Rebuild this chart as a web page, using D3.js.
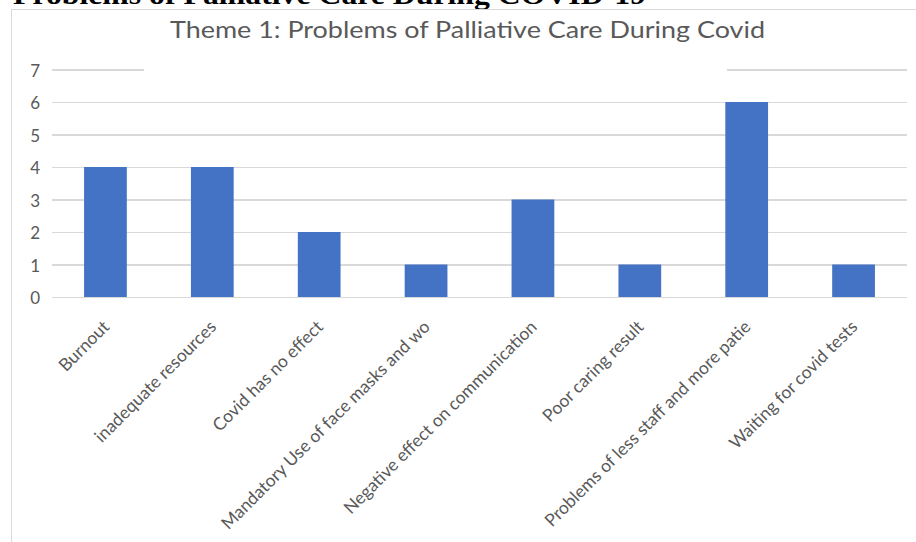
<!DOCTYPE html>
<html>
<head>
<meta charset="utf-8">
<script src="https://cdn.jsdelivr.net/npm/d3@7/dist/d3.min.js"></script>
<style>
  html, body { margin: 0; padding: 0; background: #fff; overflow: hidden; }
  svg { display: block; }
</style>
</head>
<body>
<svg id="chart" width="916" height="542"></svg>
<script>
// Theme 1 counts per problem category
const categories = [
  "Burnout",
  "inadequate resources",
  "Covid has no effect",
  "Mandatory Use of face masks and wo",
  "Negative effect on communication",
  "Poor caring result",
  "Problems of less staff and more patie",
  "Waiting for covid tests"
];
const counts = [4, 4, 2, 1, 3, 1, 6, 1];
const yTicks = [0, 1, 2, 3, 4, 5, 6, 7];

const heading = "Problems of Palliative Care During COVID-19";
const chartTitle = "Theme 1: Problems of Palliative Care During Covid";

const svg = d3.select("#chart");
const W = 916, H = 542;
const plot = { left: 52, right: 907, top: 69.5, bottom: 297 };
const textGrey = "#595959";
const gridGrey = "#d9d9d9";
const barBlue = "#4472c4";
const uiFont = "Lato, 'Open Sans', 'Noto Sans', sans-serif";

// Document heading above the chart frame (clipped by the page top)
svg.append("text")
  .attr("x", 13)
  .attr("y", 3.5)
  .attr("font-family", "'Liberation Serif', 'Times New Roman', serif")
  .attr("font-weight", "bold")
  .attr("font-size", 28)
  .attr("textLength", 633)
  .attr("lengthAdjust", "spacingAndGlyphs")
  .attr("fill", "#000")
  .text(heading);

// Chart frame
svg.append("rect")
  .attr("x", 11.5).attr("y", 9.5)
  .attr("width", W + 20).attr("height", H + 20)
  .attr("fill", "#fff")
  .attr("stroke", gridGrey)
  .attr("stroke-width", 1);

const x = d3.scaleBand()
  .domain(categories)
  .range([plot.left, plot.right])
  .paddingInner(0.6)
  .paddingOuter(0.3);

const y = d3.scaleLinear()
  .domain([0, 7])
  .range([plot.bottom, plot.top]);

// Horizontal gridlines with value labels
const yAxis = d3.axisLeft(y)
  .tickValues(yTicks)
  .tickSize(-(plot.right - plot.left))
  .tickPadding(12)
  .tickFormat(d3.format("d"));

const gy = svg.append("g")
  .attr("transform", `translate(${plot.left},0)`)
  .call(yAxis);
gy.select(".domain").remove();
gy.selectAll(".tick line")
  .attr("stroke", gridGrey)
  .attr("stroke-width", 1.2)
  .attr("shape-rendering", "crispEdges");
gy.selectAll(".tick text")
  .attr("fill", textGrey)
  .attr("font-family", uiFont)
  .attr("font-size", 17)
  .attr("dy", "0.4em");

// Title block (white backing interrupts the top gridline)
svg.append("rect")
  .attr("x", 144).attr("y", 12)
  .attr("width", 583).attr("height", 62)
  .attr("fill", "#fff");

svg.append("text")
  .attr("x", 467.5)
  .attr("y", 38)
  .attr("text-anchor", "middle")
  .attr("font-family", uiFont)
  .attr("font-size", 24)
  .attr("textLength", 595)
  .attr("lengthAdjust", "spacingAndGlyphs")
  .attr("fill", textGrey)
  .text(chartTitle);

// Bars
svg.append("g")
  .selectAll("rect")
  .data(counts)
  .join("rect")
  .attr("x", (d, i) => x(categories[i]))
  .attr("y", d => y(d))
  .attr("width", x.bandwidth())
  .attr("height", d => y(0) - y(d))
  .attr("fill", barBlue);

// Category axis with rotated labels
const xAxis = d3.axisBottom(x).tickSize(0).tickPadding(0);
const gx = svg.append("g")
  .attr("transform", `translate(0,${plot.bottom})`)
  .call(xAxis);
gx.select(".domain")
  .attr("stroke", gridGrey)
  .attr("stroke-width", 1.2)
  .attr("d", `M${plot.left},0.5H${plot.right}`);
gx.selectAll(".tick text")
  .attr("fill", textGrey)
  .attr("font-family", uiFont)
  .attr("font-size", 17.5)
  .attr("text-anchor", "end")
  .attr("x", 0)
  .attr("y", 0)
  .attr("dy", 0)
  .attr("transform", "translate(5,31) rotate(-45)");
</script>
</body>
</html>
